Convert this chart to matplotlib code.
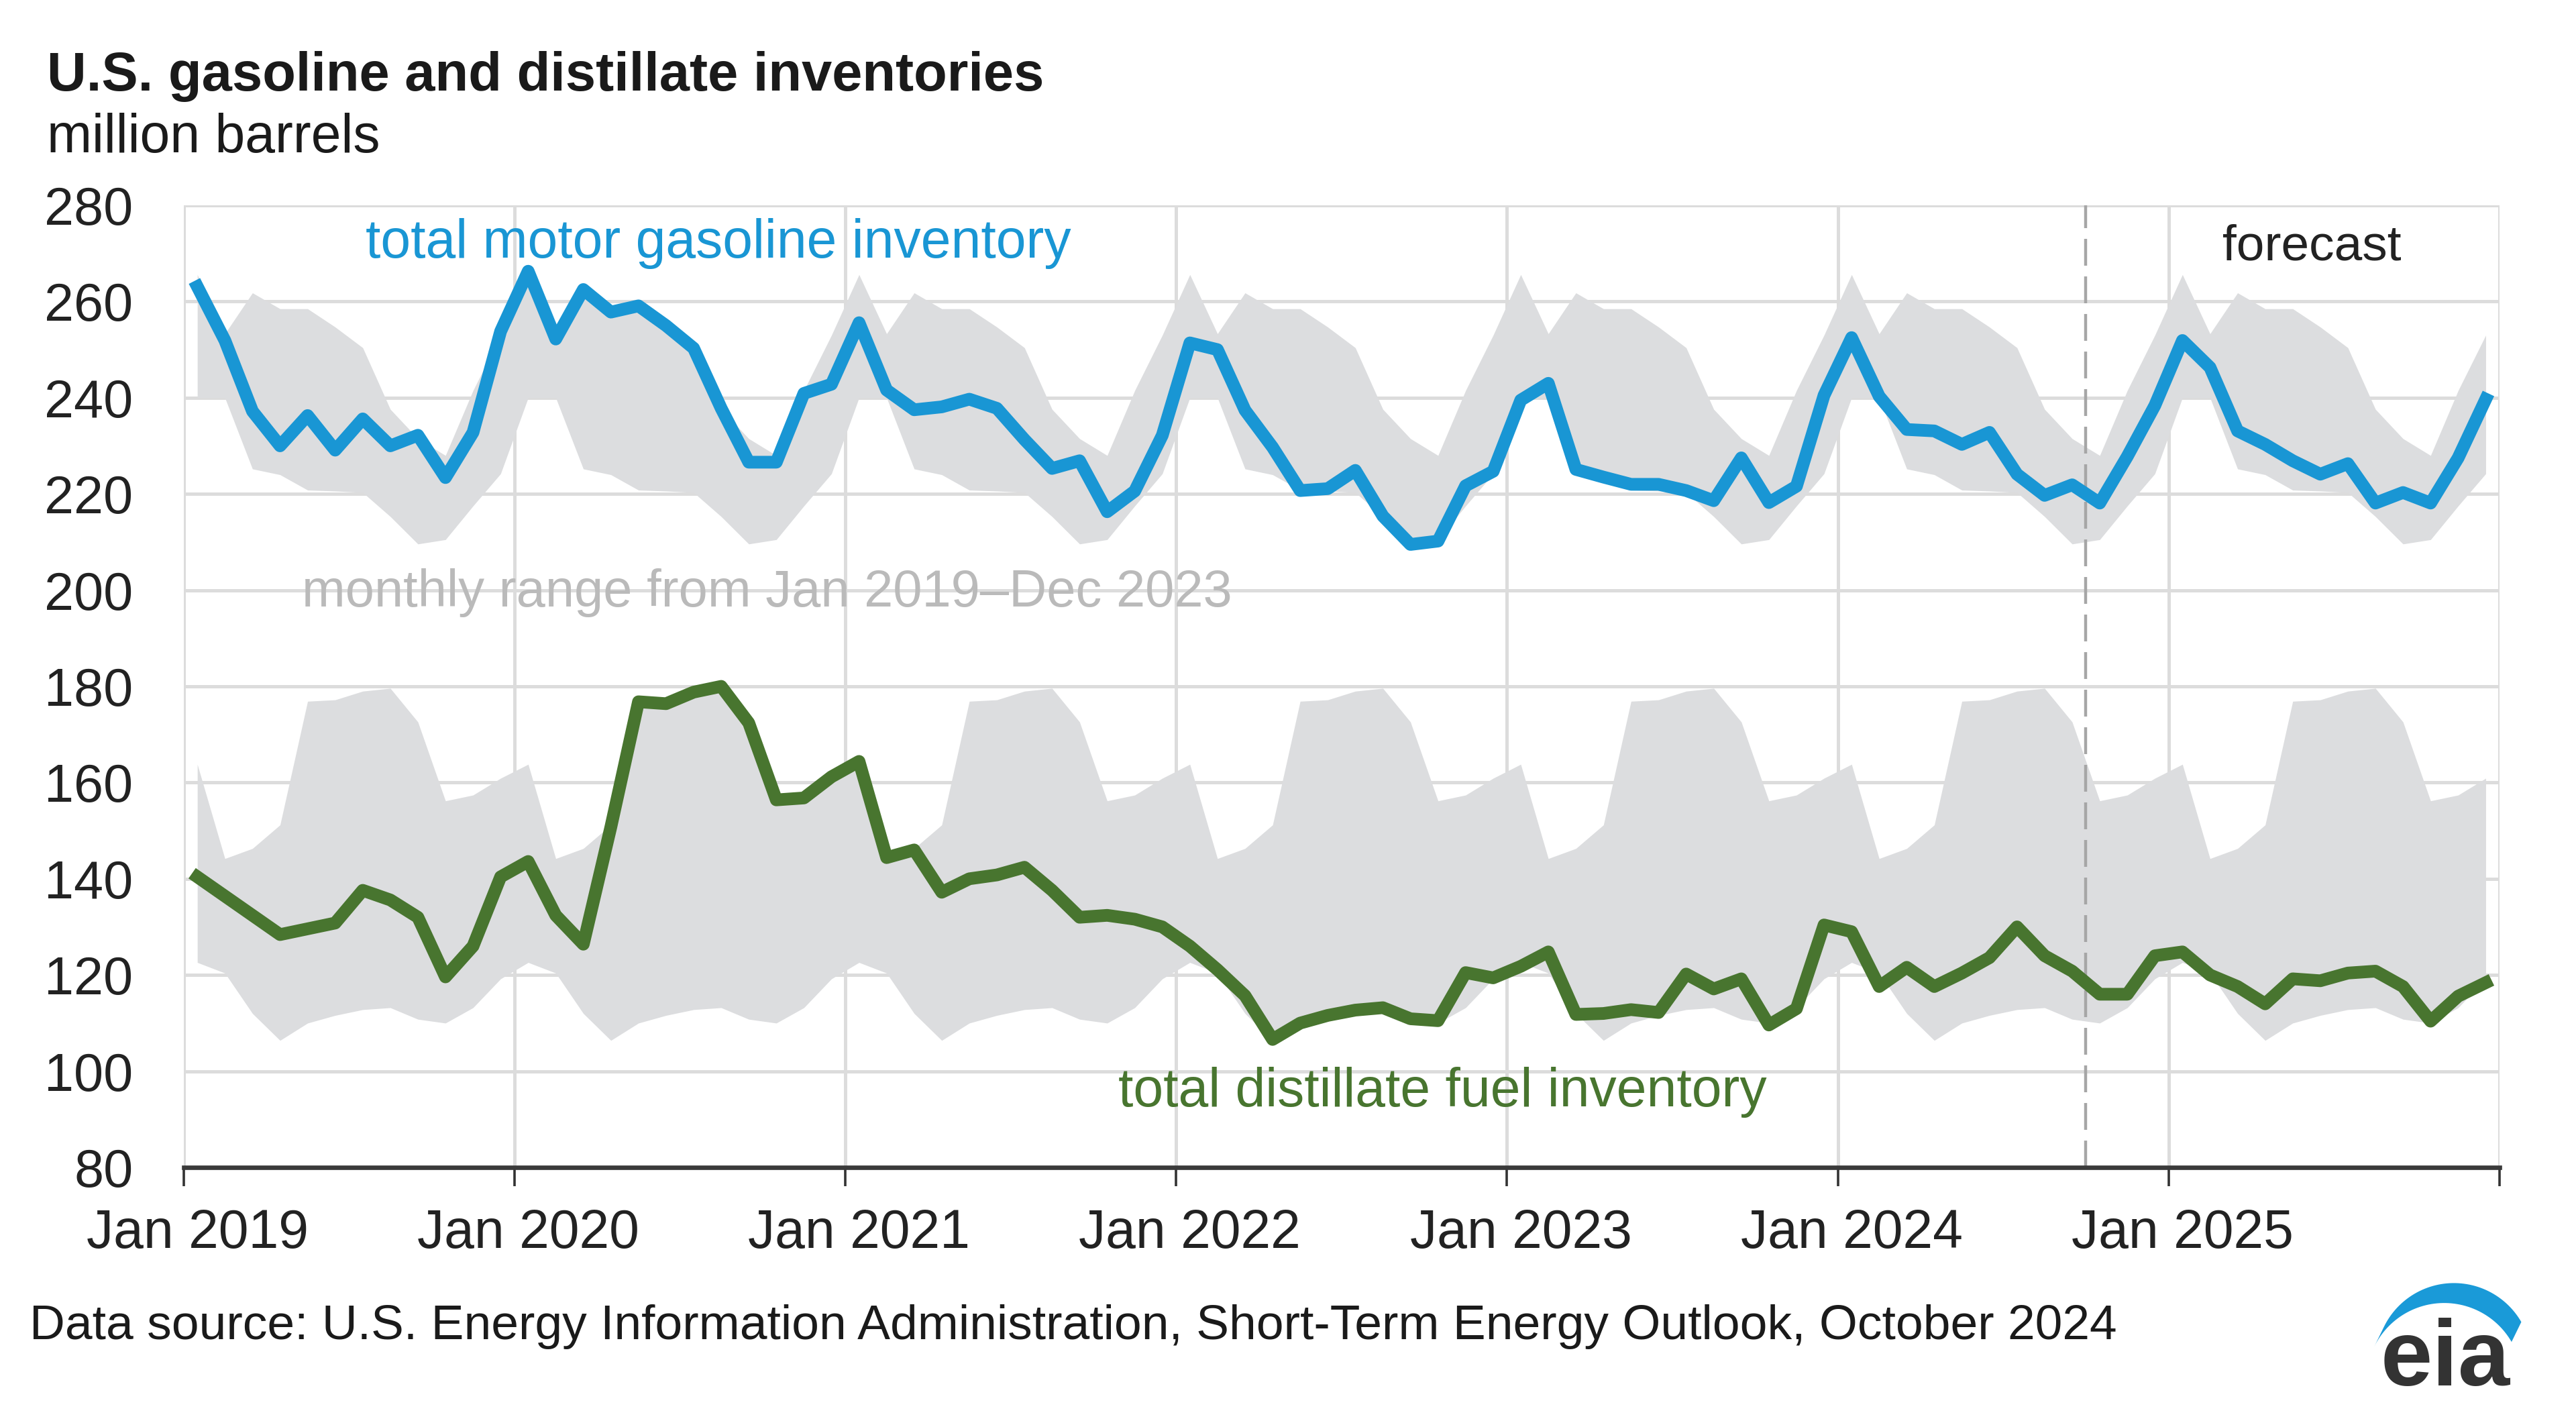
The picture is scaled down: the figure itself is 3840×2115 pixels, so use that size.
import numpy as np
import matplotlib.pyplot as plt
from matplotlib.patches import Polygon

plt.rcParams['font.family'] = ['Liberation Sans', 'DejaVu Sans']

# x labels, one per January
years = ['2019', '2020', '2021', '2022', '2023', '2024', '2025']
tick_labels = ['Jan ' + y for y in years]

# monthly inventories, Jan 2019 - Dec 2025 (million barrels)
gasoline = [263.1, 251.9, 237.2, 230.0, 236.3, 229.1, 235.6, 230.0, 232.2, 223.4, 232.8, 253.8,
            266.3, 252.2, 262.5, 257.8, 259.1, 255.0, 250.3, 237.8, 226.6, 226.6, 240.9, 242.8,
            255.6, 241.6, 237.5, 238.1, 239.7, 237.8, 231.3, 225.3, 226.9, 216.3, 220.6, 232.2,
            251.4, 250.0, 237.4, 229.7, 220.7, 221.1, 224.9, 215.4, 209.5, 210.2, 221.7, 224.7,
            239.5, 243.0, 225.1, 223.5, 222.0, 222.0, 220.7, 218.6, 227.5, 218.2, 221.6, 240.5,
            252.5, 240.3, 233.4, 233.1, 230.3, 232.8, 224.1, 219.7, 221.9, 218.1, 227.8, 238.4,
            251.9, 246.3, 233.1, 230.3, 226.9, 224.1, 226.3, 218.1, 220.3, 218.1, 227.5, 239.7]

distillate = [140.4, 136.4, 132.4, 128.4, 129.6, 130.8, 137.6, 135.6, 132.0, 119.6, 126.0, 140.4,
              143.6, 132.4, 126.4, 150.8, 176.8, 176.4, 178.8, 180.0, 172.4, 156.4, 156.8, 161.2,
              164.4, 144.4, 146.0, 137.2, 140.0, 140.8, 142.4, 137.6, 132.0, 132.4, 131.6, 130.0,
              126.0, 121.1, 115.7, 106.6, 110.0, 111.6, 112.7, 113.2, 110.9, 110.5, 120.5, 119.4,
              121.8, 124.8, 111.8, 112.0, 112.8, 112.2, 120.2, 117.1, 119.2, 109.6, 113.0, 130.4,
              129.0, 117.6, 121.6, 117.6, 120.4, 123.6, 130.0, 124.0, 120.8, 116.0, 116.0, 124.0,
              124.8, 120.0, 117.6, 114.0, 119.2, 118.8, 120.4, 120.8, 117.6, 110.4, 115.6, 118.4]

# monthly range Jan 2019 - Dec 2023 (Jan..Dec), repeated every year
gas_hi = [265.6, 253.3, 261.8, 258.5, 258.5, 254.7, 250.4, 237.6, 231.5, 228.0, 241.5, 253.0]
gas_lo = [240.0, 240.0, 225.2, 224.0, 220.8, 220.6, 220.3, 215.3, 209.6, 210.5, 217.5, 224.2]
dist_hi = [163.8, 144.2, 146.3, 151.2, 176.9, 177.2, 179.0, 179.6, 172.6, 156.2, 157.4, 160.9]
dist_lo = [122.6, 120.4, 112.0, 106.4, 110.0, 111.6, 112.8, 113.2, 110.8, 110.0, 113.2, 119.2]

forecast_start = 69  # Oct 2024, months after Jan 2019

n = len(gasoline)
x = np.arange(n) + 0.5
n_years = n // 12

fig = plt.figure(figsize=(19.2, 10.575), dpi=200)
ax = fig.add_axes([0.07125, 0.1773, 0.89906, 0.67801])

band_col = '#dcdddf'
ax.fill_between(x, np.tile(gas_lo, n_years), np.tile(gas_hi, n_years),
                color=band_col, lw=0, zorder=1)
ax.fill_between(x, np.tile(dist_lo, n_years), np.tile(dist_hi, n_years),
                color=band_col, lw=0, zorder=1)

ax.axvline(forecast_start, color='#a6a6a6', lw=1.6, dashes=(9, 3.6), zorder=2)

ax.plot(x, gasoline, color='#1996d4', lw=6.8, solid_joinstyle='round', zorder=3)
ax.plot(x, distillate, color='#48752f', lw=6.8, solid_joinstyle='round', zorder=3)

ax.set_xlim(0, n)
ax.set_ylim(80, 280)
ax.set_yticks(range(80, 281, 20))
ax.set_xticks(range(0, n + 1, 12))
ax.set_xticklabels([])
ax.set_xticks(np.arange(0, n, 12) + 0.5, tick_labels, minor=True)

ax.set_axisbelow(True)
ax.grid(True, which='major', color='#dcdcdc', lw=1.8)
for side in ['top', 'right', 'left']:
    ax.spines[side].set_visible(False)
ax.spines['bottom'].set_color('#3a3a3a')
ax.spines['bottom'].set_linewidth(2.4)
ax.spines['bottom'].set_zorder(4)

ax.tick_params(axis='y', length=0, pad=27, labelsize=28.5, labelcolor='#222222')
ax.tick_params(axis='x', which='major', length=10, width=1.3, color='#333333', direction='out')
ax.tick_params(axis='x', which='minor', length=0, pad=22, labelsize=29, labelcolor='#222222')

ax.text(6.6, 269.1, 'total motor gasoline inventory', color='#1996d4', fontsize=29, va='baseline')
ax.text(33.9, 92.7, 'total distillate fuel inventory', color='#48752f', fontsize=29, va='baseline')
ax.text(4.3, 196.6, 'monthly range from Jan 2019\u2013Dec 2023', color='#bababa',
        fontsize=28, va='baseline', zorder=3)
ax.text(77.2, 268.6, 'forecast', color='#222222', fontsize=27, va='baseline', ha='center')

fig.text(0.0182, 0.9362, 'U.S. gasoline and distillate inventories', fontsize=29.3,
         fontweight='bold', color='#1a1a1a', va='baseline')
fig.text(0.0182, 0.8927, 'million barrels', fontsize=29, color='#1a1a1a', va='baseline')
fig.text(0.0115, 0.0563, 'Data source: U.S. Energy Information Administration, '
         'Short-Term Energy Outlook, October 2024', fontsize=26.4, color='#1a1a1a', va='baseline')

# eia logo drawn in pixel space
lax = fig.add_axes([0, 0, 1, 1], zorder=5)
lax.set_xlim(0, 3840)
lax.set_ylim(0, 2115)
lax.axis('off')
cx, cy, r = 3658, 86.6, 116
dx, dy = -14.5, -29.7
th = np.radians(np.linspace(154, 30, 60))
outer = np.column_stack([cx + r * np.cos(th), cy + r * np.sin(th)])
inner = np.column_stack([cx + dx + r * np.cos(th[::-1]), cy + dy + r * np.sin(th[::-1])])
lax.add_patch(Polygon(np.vstack([outer, inner]), closed=True, color='#1a9ad8', lw=0))
lax.text(3645, 50, 'eia', fontsize=50, fontweight='bold', color='#333333',
         ha='center', va='baseline')

fig.savefig('out.png', dpi=200, facecolor='white')
